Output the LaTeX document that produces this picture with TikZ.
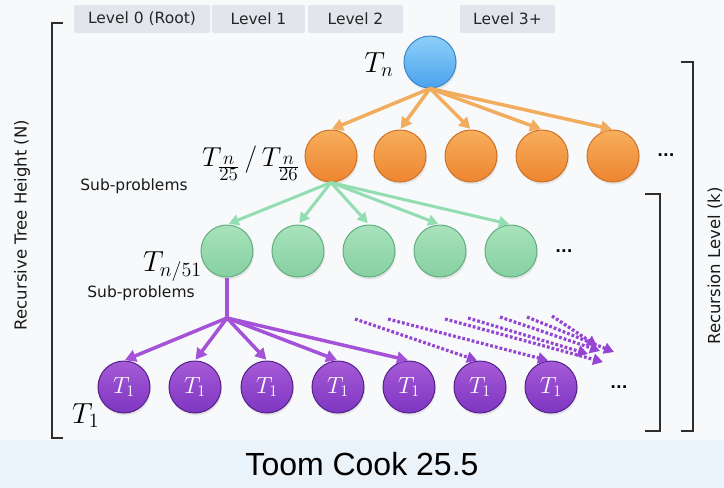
\documentclass[tikz,border=0pt]{standalone}
\usepackage{fontspec}
\setmainfont{DejaVu Sans}
\newfontfamily\titlefont{Liberation Sans}
\usetikzlibrary{arrows.meta,shadows}
\definecolor{bgc}{HTML}{F7F9FB}
\definecolor{bandc}{HTML}{EAF2FA}
\definecolor{tabc}{HTML}{E2E6EC}
\definecolor{blueL}{HTML}{8DD0F8}
\definecolor{blueB}{HTML}{4AA2EE}
\definecolor{blueD}{HTML}{3B86C8}
\definecolor{orL}{HTML}{F6AE5C}
\definecolor{orB}{HTML}{EE8530}
\definecolor{orD}{HTML}{CF7127}
\definecolor{orA}{HTML}{F2AC5E}
\definecolor{grL}{HTML}{A8E2BC}
\definecolor{grB}{HTML}{86D0A2}
\definecolor{grD}{HTML}{62AE7E}
\definecolor{grA}{HTML}{93DDB2}
\definecolor{puL}{HTML}{A65AD6}
\definecolor{puB}{HTML}{7E36C2}
\definecolor{puD}{HTML}{55208A}
\definecolor{puA}{HTML}{A452D8}
\definecolor{puDot}{HTML}{9446D2}
\definecolor{brkc}{HTML}{2E2E2E}
\newcommand{\scmath}[2]{\scalebox{#1}{$#2$}}
\tikzset{
  lvl/.style={fill=tabc, rounded corners=2pt, minimum height=28pt, inner sep=0pt, text=black!85, font=\fontsize{15.5}{18}\selectfont},
  shad/.style={drop shadow={opacity=0.16, shadow xshift=1pt, shadow yshift=-2.5pt}},
  nodebase/.style={circle, minimum size=52pt, inner sep=0pt, line width=1pt, shad},
  rootn/.style={nodebase, draw=blueD, top color=blueL, bottom color=blueB},
  orn/.style={nodebase, draw=orD, top color=orL, bottom color=orB},
  grn/.style={nodebase, draw=grD, top color=grL, bottom color=grB},
  pun/.style={nodebase, draw=puD, top color=puL, bottom color=puB, text=white, font=\fontsize{17.28}{20}\selectfont},
  oarr/.style={draw=orA, line width=3.5pt, -{Triangle[length=11pt,width=12pt]}, shorten >=1pt},
  garr/.style={draw=grA, line width=3pt, -{Triangle[length=10pt,width=11pt]}, shorten >=2pt},
  parr/.style={draw=puA, line width=3.5pt, -{Triangle[length=11pt,width=12pt]}, shorten >=1pt},
  pdot/.style={draw=puDot, line width=3.2pt, dash pattern=on 2.8pt off 2pt, -{Triangle[length=10pt,width=11pt]}},
  brk/.style={draw=brkc, line width=1.6pt},
  lbl/.style={font=\fontsize{15.5}{18}\selectfont, text=black!90},
  mlbl/.style={font=\fontsize{20.74}{24}\selectfont, inner sep=0pt},
  dots/.style={font=\bfseries\fontsize{15}{18}\selectfont, text=black},
  sidel/.style={font=\fontsize{16.5}{19}\selectfont, text=black!90, rotate=90}
}
\begin{document}
\begin{tikzpicture}[x=1pt,y=-1pt]
% background
\fill[bgc] (0,0) rectangle (724,488);
\fill[bandc] (0,440) rectangle (724,488);
\useasboundingbox (0,0) rectangle (724,488);

% level tabs
\node[lvl, minimum width=136pt] (l0) at (142,19) {Level 0 (Root)};
\node[lvl, minimum width=93pt] (l1) at (258.5,19) {Level 1};
\node[lvl, minimum width=95pt] (l2) at (355.5,19) {Level 2};
\node[lvl, minimum width=95pt] (l3) at (507.5,19) {Level 3+};

% brackets
\draw[brk] (63,23) -- (52,23) -- (52,438) -- (63,438);
\draw[brk] (681,62) -- (693,62) -- (693,431) -- (681,431);
\draw[brk] (645,194) -- (660,194) -- (660,431) -- (645,431);
\node[sidel] (lh) at (22,225) {Recursive Tree Height (N)};
\node[sidel] (rl) at (715,266) {Recursion Level (k)};

% root
\node[rootn] (root) at (430,62) {};
\node[mlbl, anchor=base] (tn) at (379,72) {\scmath{1.4}{T_n}};

% orange level
\node[orn] (o1) at (331,156) {};
\node[orn] (o2) at (400,156) {};
\node[orn] (o3) at (471,156) {};
\node[orn] (o4) at (542,156) {};
\node[orn] (o5) at (613,156) {};
\node[dots] (od) at (666,155) {...};
\node[mlbl, anchor=base] (tlab) at (251,166) {\scmath{1.32}{T_{\frac{\scriptstyle n}{\scriptstyle 25}}\,/\,T_{\frac{\scriptstyle n}{\scriptstyle 26}}}};
\node[lbl] (sp1) at (134,186) {Sub-problems};

\foreach \i in {1,...,5} \draw[oarr] (root.south) -- (o\i.north);

% green level
\node[grn] (g1) at (227,251) {};
\node[grn] (g2) at (298,251) {};
\node[grn] (g3) at (369,251) {};
\node[grn] (g4) at (440,251) {};
\node[grn] (g5) at (511,251) {};
\node[dots] (gd) at (564,251) {...};
\node[mlbl, anchor=base west] (t51) at (143,271) {\scmath{1.4}{T_{n/51}}};
\node[lbl] (sp2) at (141,293) {Sub-problems};

\foreach \i in {1,...,5} \draw[garr] (o1.south) -- (g\i.north);

% purple level
\node[pun] (p1) at (124,387) {\scmath{1.35}{T_1}};
\node[pun] (p2) at (195,387) {\scmath{1.35}{T_1}};
\node[pun] (p3) at (267,387) {\scmath{1.35}{T_1}};
\node[pun] (p4) at (338,387) {\scmath{1.35}{T_1}};
\node[pun] (p5) at (409,387) {\scmath{1.35}{T_1}};
\node[pun] (p6) at (480,387) {\scmath{1.35}{T_1}};
\node[pun] (p7) at (551,387) {\scmath{1.35}{T_1}};
\node[dots] (pd) at (619,387) {...};
\node[mlbl, anchor=base west] (t1) at (72,423) {\scmath{1.4}{T_1}};

\coordinate (jn) at (227,318);
\draw[draw=puA, line width=3.5pt] (g1.south) -- (jn);
\foreach \i in {1,...,5} \draw[parr] (jn) -- (p\i.north);

% dotted continuation arrows
\coordinate (d1s) at (355,319);
\coordinate (d2s) at (388,319);
\coordinate (d3s) at (445,319);
\coordinate (d4s) at (468,318);
\coordinate (d5s) at (500,317);
\coordinate (d6s) at (527,317);
\coordinate (d7s) at (552,316);
\coordinate (d3e) at (603,362);
\coordinate (d4e) at (588,354);
\coordinate (d5e) at (600,351);
\coordinate (d6e) at (614,352);
\coordinate (d7e) at (597,346);
\draw[pdot] (d1s) -- ([xshift=-3pt]p6.north);
\draw[pdot] (d2s) -- ([xshift=-3pt]p7.north);
\draw[pdot] (d3s) -- (d3e);
\draw[pdot] (d4s) -- (d4e);
\draw[pdot] (d5s) -- (d5e);
\draw[pdot] (d6s) -- (d6e);
\draw[pdot] (d7s) -- (d7e);

% title
\node[font=\titlefont\fontsize{32}{36}\selectfont, text=black] (title) at (362,464) {Toom Cook 25.5};
\end{tikzpicture}
\end{document}
